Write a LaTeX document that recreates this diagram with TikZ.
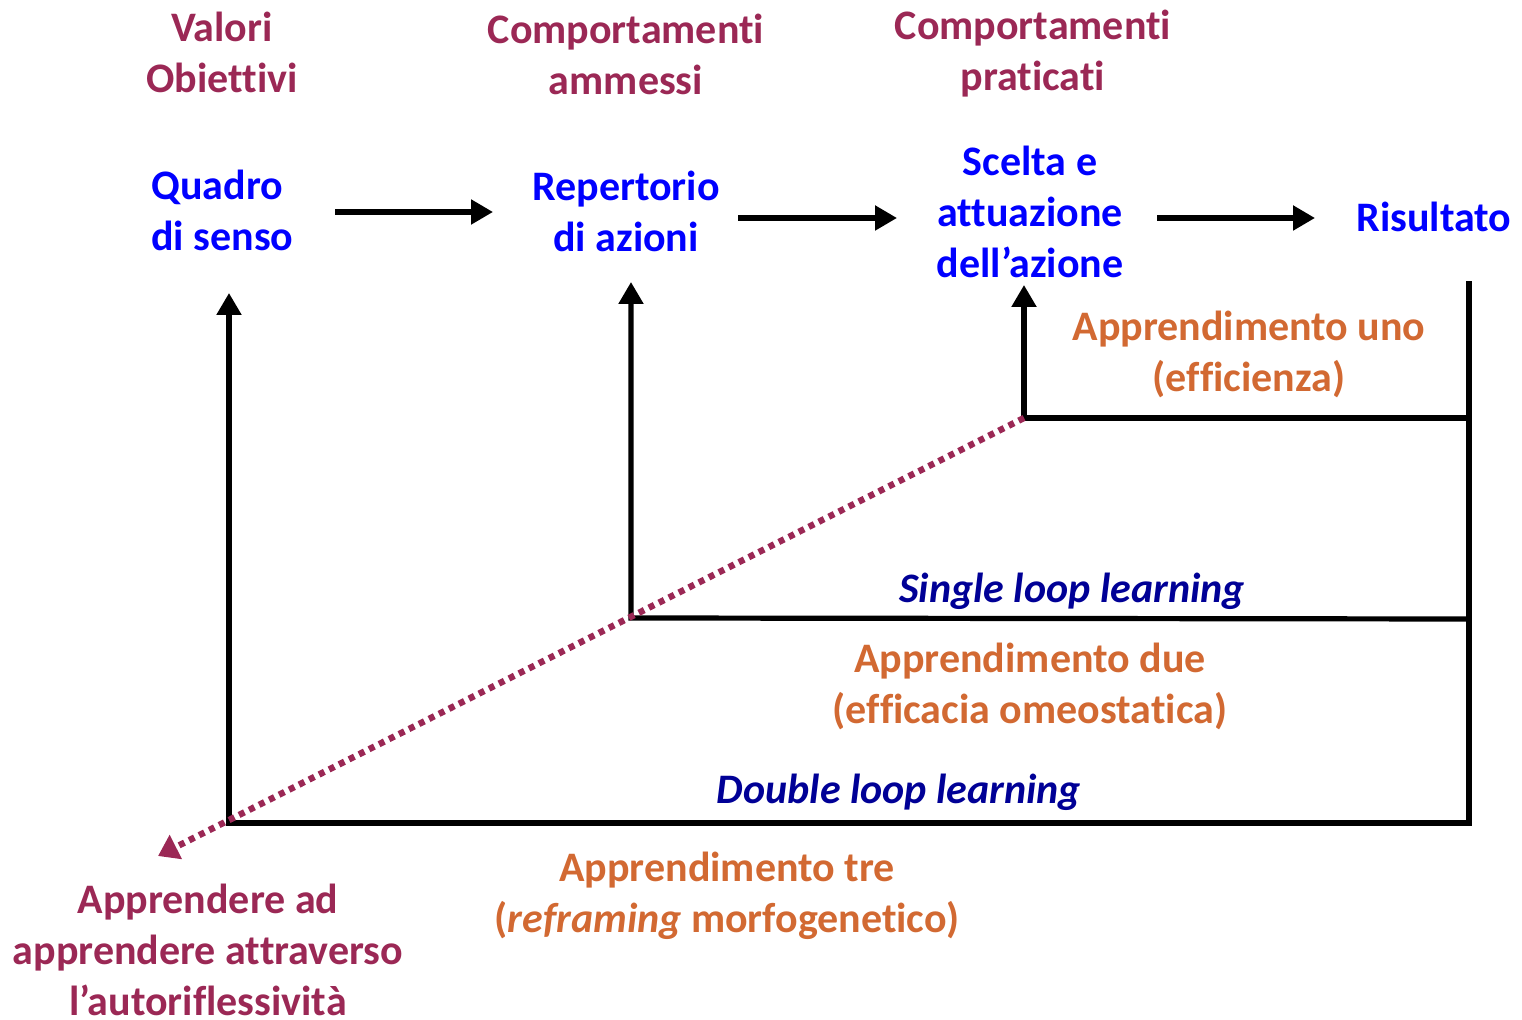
\documentclass[tikz,border=0pt]{standalone}
\usepackage{fontspec}
\setmainfont{Carlito}[Ligatures={NoCommon}]
\usetikzlibrary{arrows.meta}
\definecolor{wine}{RGB}{155,40,85}
\definecolor{ochre}{RGB}{210,105,50}
\definecolor{vivid}{RGB}{0,0,255}
\definecolor{navy}{RGB}{0,0,150}
\begin{document}
\begin{tikzpicture}[x=0.5pt,y=-0.5pt,
  txt/.style={font=\fontsize{21}{25.5}\selectfont\bfseries, align=center, inner sep=0pt},
  head/.style={txt, text=wine},
  stage/.style={txt, text=vivid},
  lvl/.style={txt, text=ochre},
  loop/.style={txt, text=navy, font=\fontsize{21}{25.5}\selectfont\bfseries\itshape},
  flow/.style={line width=2.6pt, -{Triangle[length=11pt,width=12pt]}},
  path/.style={line width=2.6pt},
  meta/.style={line width=3.2pt, wine, dash pattern=on 3pt off 2.6pt, -{Triangle[length=10pt,width=13pt]}}
]
\useasboundingbox (0,0) rectangle (1522,1020);

% column headings
\node[head] (h1) at (222,52) {Valori\\Obiettivi};
\node[head] (h2) at (626,54) {Comportamenti\\ammessi};
\node[head] (h3) at (1033,54) {Comportamenti\\praticati};

% process stages
\node[stage, align=left, anchor=west] (s1) at (151,210) {Quadro\\di senso};
\node[stage] (s2) at (626,211) {Repertorio\\di azioni};
\node[stage] (s3) at (1030,212) {Scelta e\\attuazione\\dell’azione};
\node[stage] (s4) at (1434,217) {Risultato};

% learning levels
\node[lvl] (l1) at (1249,354) {Apprendimento uno\\(efficienza)};
\node[loop] (sl) at (1072,591) {Single loop learning};
\node[lvl] (l2) at (1030,686) {Apprendimento due\\(efficacia omeostatica)};
\node[loop] (dl) at (899,792) {Double loop learning};
\node[lvl] (l3) at (727,896) {Apprendimento tre\\({\itshape reframing} morfogenetico)};
\node[head] (l4) at (208,950) {Apprendere ad\\apprendere attraverso\\l’autoriflessività};

% anchor points of the feedback loops
\coordinate (a1s) at (335,212); \coordinate (a1e) at (493,212);
\coordinate (a2s) at (738,218); \coordinate (a2e) at (897,218);
\coordinate (a3s) at (1157,218); \coordinate (a3e) at (1315,218);
\coordinate (rtop) at (1469,284);
\coordinate (r1) at (1469,418);
\coordinate (r2) at (1469,619);
\coordinate (r3) at (1469,823);
\coordinate (c1) at (1024,418);
\coordinate (c2) at (631,618);
\coordinate (c3) at (229,823);
\coordinate (t1) at (1024,285);
\coordinate (t2) at (631,282);
\coordinate (t3) at (229,293);
\coordinate (mend) at (158,856);

% forward flow
\draw[flow] (a1s) -- (a1e);
\draw[flow] (a2s) -- (a2e);
\draw[flow] (a3s) -- (a3e);

% feedback loops
\draw[path, line cap=rect] (rtop) -- (r3);
\draw[flow] (r1) -- (c1) -- (t1);
\draw[flow] (r2) -- (c2) -- (t2);
\draw[flow] (r3) -- (c3) -- (t3);

% self-reflexive learning
\draw[meta] (c1) -- (mend);
\end{tikzpicture}
\end{document}
